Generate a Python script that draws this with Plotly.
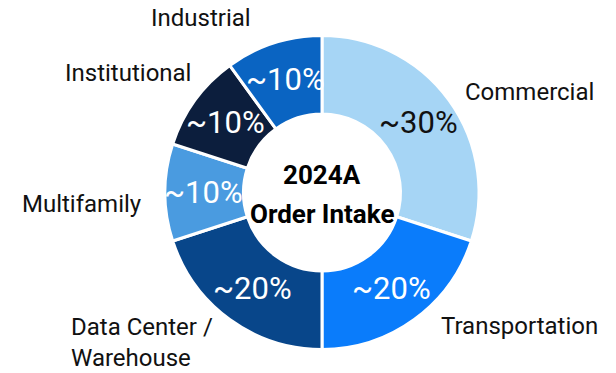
import math
import plotly.graph_objects as go

# Segment data (share of 2024A order intake, %)
segments = ["Commercial", "Transportation", "Data Center /<br>Warehouse",
            "Multifamily", "Institutional", "Industrial"]
shares = [30, 20, 20, 10, 10, 10]
share_text = ["~30%", "~20%", "~20%", "~10%", "~10%", "~10%"]
colors = ["#a6d5f5", "#0a7cfb", "#08468a", "#4a9be0", "#0c1e3d", "#0a64c2"]
text_colors = ["#111111", "white", "white", "white", "white", "white"]
center_lines = ["2024A", "Order Intake"]

W, H = 616, 373
CX, CY, R = 322, 192.5, 157   # pie centre and radius in pixels
HOLE = 0.5

# outer label placement (pixel x, pixel y, x anchor)
label_pos = [
    (529, 92, "center"),
    (519, 326, "center"),
    (69, 342, "left"),
    (82, 204, "center"),
    (128, 73, "center"),
    (201, 18, "center"),
]

fig = go.Figure(go.Pie(
    labels=segments,
    values=shares,
    sort=False,
    direction="clockwise",
    rotation=0,
    hole=HOLE,
    marker=dict(colors=colors, line=dict(color="white", width=3)),
    textinfo="none",
    showlegend=False,
    domain=dict(x=[(CX - R) / W, (CX + R) / W],
                y=[(H - CY - R) / H, (H - CY + R) / H]),
))

annotations = []
total = sum(shares)
cum = 0
r_mid = R * (1 + HOLE) / 2 + 1
for name, v, t, tc, (lx, ly, anc) in zip(segments, shares, share_text, text_colors, label_pos):
    mid = (cum + v / 2) / total * 2 * math.pi
    cum += v
    px = CX + r_mid * math.sin(mid)
    py = CY - r_mid * math.cos(mid)
    annotations.append(dict(
        x=px / W, y=1 - py / H, xref="paper", yref="paper",
        text=t, showarrow=False, xanchor="center", yanchor="middle",
        font=dict(family="Roboto", size=31, color=tc)))
    annotations.append(dict(
        x=lx / W, y=1 - ly / H, xref="paper", yref="paper",
        text=name, showarrow=False, xanchor=anc, yanchor="middle", align="left",
        font=dict(family="Roboto", size=24, color="#111111")))

for line, yy in zip(center_lines, [175, 214]):
    annotations.append(dict(
        x=CX / W, y=1 - yy / H, xref="paper", yref="paper",
        text="<b>%s</b>" % line, showarrow=False, xanchor="center", yanchor="middle",
        font=dict(family="Roboto", size=26, color="black")))

fig.update_layout(
    width=W, height=H,
    margin=dict(l=0, r=0, t=0, b=0),
    paper_bgcolor="white", plot_bgcolor="white",
    annotations=annotations,
)

fig.write_html("out.html")
